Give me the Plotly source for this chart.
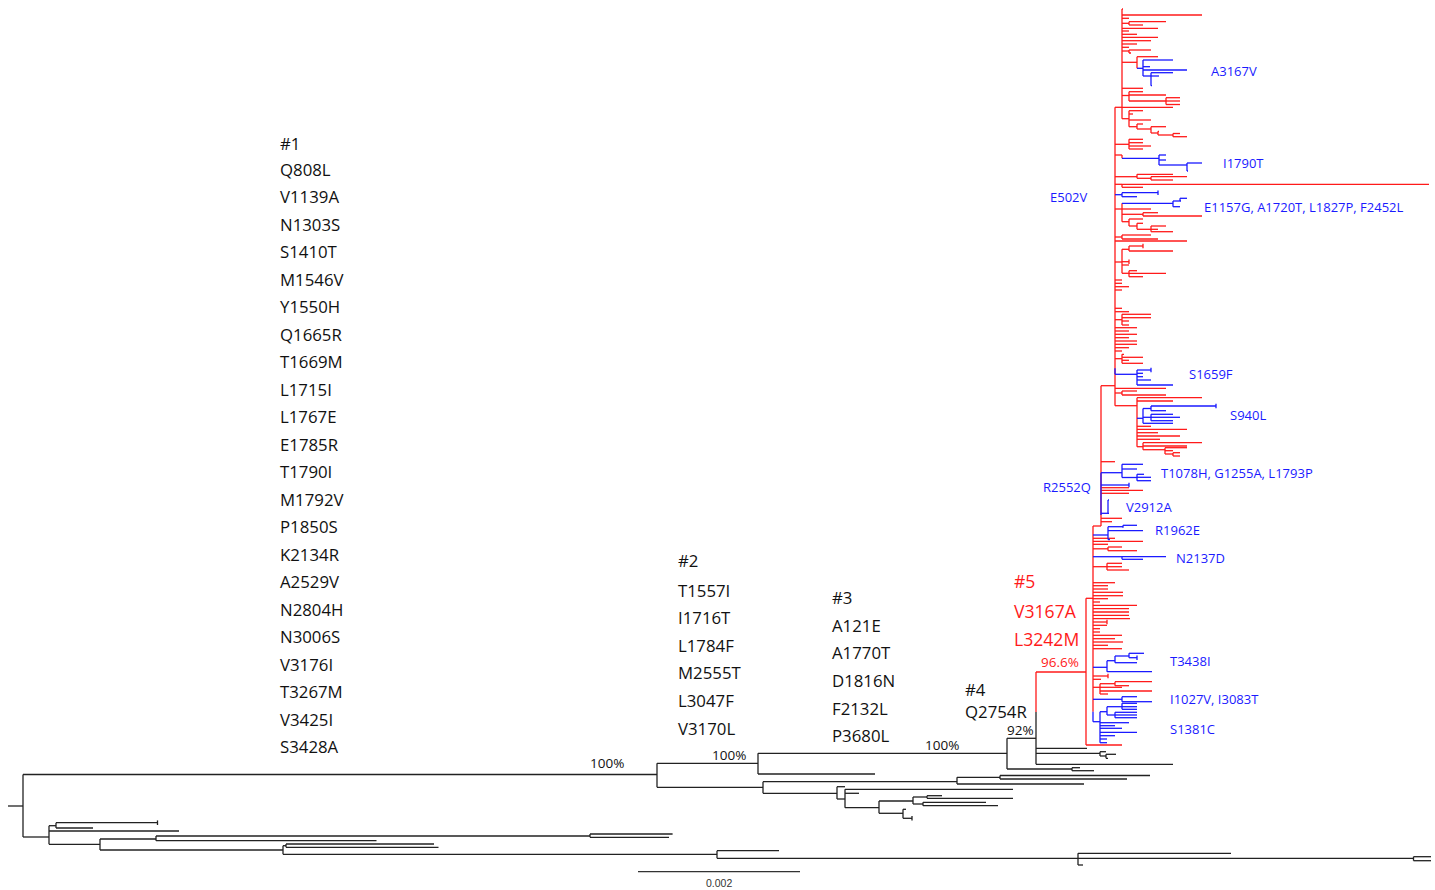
import plotly.graph_objects as go

# ------------------------------------------------------------------
# Tree description helpers: T = tip (row, depth_end), N = internal node
# (row, depth, children). Depth units: 162 units = 0.002 subst./site.
# ------------------------------------------------------------------
def T(y, x, tick=False, c=None):
    return ("t", y, x, tick, c)


def N(y, x, kids, c=None):
    return ("n", y, x, kids, c)


# ---------------- outgroup (bottom) ----------------
outgroup_a = N(825.7, 56, [T(822.7, 157.5, True), T(828, 93)])
outgroup_b = N(839, 156, [N(836, 590, [T(834, 672.6), T(837.3, 669)]), T(840.7, 376.5)])
outgroup_c = N(850, 283, [
    N(845.7, 286, [T(844, 434), T(847.3, 438.5)]),
    N(854.3, 717, [T(850.7, 779),
                   N(858.3, 1078, [T(853.3, 1231),
                                   N(858.3, 1413.5, [T(856.7, 1431), T(860.7, 1431)]),
                                   T(865, 1083)])])])
outgroup = N(837, 49, [outgroup_a, T(831, 179), N(844.3, 100, [outgroup_b, outgroup_c])])

# ---------------- black intermediate clades ----------------
clade_g = N(793.3, 837, [T(786.7, 845), N(799, 845, [
    T(789.3, 1013), T(793.3, 859),
    N(807.7, 879, [
        N(801, 913, [N(797, 927, [T(795.7, 942), T(798.3, 1013)]),
                     N(804, 923, [T(802.3, 986), T(805.7, 998)])]),
        N(813.3, 903, [T(809.3, 906), T(818.3, 912, True)])])])])
clade_f = N(781.7, 957, [N(777.3, 1000, [T(775.5, 1150), T(779, 1127)]), T(784, 1084)])
clade_d = N(787.3, 763, [clade_f, clade_g])

# ---------------- red clade (#5) and blue sub-clades ----------------
A3167V = N(68.3, 1143, [T(60, 1173), T(66.7, 1150), T(70, 1187),
                        N(76, 1151, [T(72.7, 1173), T(76, 1159), T(85.7, 1152)])], "b")
top_fan = N(107.3, 1122, [
    T(9, 1123), T(15, 1202), T(18.3, 1129),
    N(23.3, 1129, [T(21.7, 1166), T(25, 1143)]),
    T(28.3, 1158), T(31, 1129), T(34.3, 1137), T(37.3, 1158), T(40.7, 1151), T(44, 1137), T(47.3, 1129),
    N(51, 1129, [T(50, 1151), T(53, 1131)]),
    N(62.3, 1137, [T(56.7, 1158), A3167V]),
    T(88.3, 1143),
    N(95.5, 1129, [T(91.7, 1143), T(95, 1166),
                   N(101, 1166, [T(97.7, 1180), T(101, 1180), T(104.5, 1180)])]),
    T(107.3, 1173),
    N(118.7, 1129, [T(110.7, 1143), T(114, 1133), T(120, 1151),
                    N(126.7, 1137, [T(124, 1143),
                                    N(129, 1151, [T(126.7, 1166),
                                                  N(133, 1158, [T(131.3, 1159),
                                                                N(135, 1173, [T(133.5, 1180), T(136.7, 1187)])])])])]),
])
I1790T = N(158.3, 1159, [T(155, 1166), T(160, 1166),
                         N(165, 1187, [T(163, 1202), T(171, 1188)])], "b")
E502V_clade = N(194.7, 1122, [T(192.7, 1158, True), T(196.7, 1137)], "b")
E1157G = N(203.3, 1173, [N(201, 1180, [T(198.3, 1187), T(201, 1181)]), T(206.7, 1180)], "b")
S1659F = N(374.3, 1137, [T(370, 1151, True), T(373.3, 1143), T(376.7, 1143), T(380, 1151), T(385, 1173)], "b")
S940L = N(418.3, 1143, [N(408.5, 1151, [T(406, 1216, True), T(410.7, 1166)]),
                        N(417.3, 1151, [T(414.3, 1173), T(417.3, 1180), T(420.7, 1173)]),
                        T(423.3, 1173)], "b")
fan_1137 = N(405.7, 1137, [
    T(397.7, 1202), T(401, 1173), S940L,
    T(426.3, 1151), T(429.3, 1187), T(432.7, 1158), T(436, 1180), T(439.3, 1160),
    N(446.7, 1143, [T(442.7, 1202), T(446, 1187),
                    N(449.7, 1165, [T(447.7, 1187), T(450.7, 1173),
                                    N(454, 1173, [T(452.7, 1180), T(456, 1180)])])])])
fan_1115 = N(385.7, 1115, [
    top_fan,
    N(144.3, 1129, [T(139.3, 1143), T(142.7, 1143), T(146, 1151), T(149, 1143)]),
    N(155, 1122, [I1790T]),
    N(176.7, 1137, [T(174.3, 1173), N(178.3, 1151, [T(176.7, 1187), T(180, 1173)])]),
    N(184.3, 1122, [T(184.3, 1429), T(187.3, 1143)]),
    E502V_clade,
    N(209, 1122, [E1157G, T(209, 1151),
                  N(214.3, 1143, [T(212.7, 1158), T(216, 1202)]),
                  N(221.7, 1129, [T(219, 1143),
                                  N(226, 1137, [T(223.3, 1143),
                                                N(229.3, 1151, [T(226, 1166), T(229.3, 1158), T(231.7, 1173)])])])]),
    N(237, 1122, [T(235, 1151), T(239, 1158)]),
    T(241, 1187),
    N(262, 1122, [N(249.3, 1129, [T(246, 1143, True), T(251, 1173)]), T(261.7, 1129, True), T(265, 1129),
                  N(273.3, 1129, [T(270.7, 1137), T(273.3, 1166), T(276.7, 1143)])]),
    T(280, 1122), T(283.3, 1122), T(286.7, 1129), T(290, 1122),
    T(308.3, 1122), T(311.7, 1129),
    N(319.7, 1122, [T(314.3, 1151), T(317.7, 1151), T(321, 1129), T(325, 1129)]),
    T(327.7, 1137), T(331, 1129), T(334.3, 1137), T(337.7, 1129), T(341, 1137), T(344.3, 1137),
    T(347.7, 1129), T(351, 1122),
    N(358.7, 1122, [T(354.3, 1124), T(357.3, 1143), T(360.3, 1129), T(363.3, 1143)]),
    N(368.3, 1115, [S1659F], "b"),
    T(388.3, 1166),
    N(393, 1122, [T(391, 1137), T(395, 1166)]),
    fan_1137,
])
T1078H = N(472.7, 1122, [T(464.3, 1143), T(469, 1137),
                         N(477.5, 1137, [T(474.3, 1144), T(477.3, 1151), T(480.7, 1151)])], "b")
V2912A = N(513.3, 1108, [T(500, 1109), T(513.3, 1109)], "b")
mid_blue = N(515, 1101, [T1078H, T(485, 1129, True), T(487.7, 1129, c="r"), T(490.3, 1143, c="r"),
                         T(493.3, 1129, c="r"), V2912A], "b")
fan_1101 = N(526, 1101, [fan_1115, T(461.7, 1115), mid_blue, T(518.3, 1122), T(521.7, 1112)])
R1962E = N(535, 1108, [N(526.7, 1123, [T(525.3, 1137), T(527.7, 1123)]), T(530.7, 1143), T(539.5, 1110)], "b")
N2137D = N(556.7, 1122, [T(556.7, 1166), T(559.3, 1143)], "b")
T3438I = N(667.3, 1107, [N(660.7, 1115, [N(656, 1129, [T(653.3, 1144), T(657.7, 1137, True)]), T(662.7, 1137)]),
                         T(671.7, 1152)], "b")
I1027V = N(699.3, 1122, [T(696.7, 1137), T(701.7, 1152)], "b")
S1381C = N(711.7, 1093, [N(721.7, 1100, [
    N(711.7, 1107, [N(706.7, 1122, [T(703.3, 1137), T(706.7, 1137), T(709.3, 1137)]),
                    N(715, 1115, [T(712.3, 1137), T(715, 1137), T(717.7, 1137)])]),
    T(722.7, 1129), T(725.7, 1115), T(728.3, 1122), T(732.3, 1137), T(735.7, 1115), T(739, 1107), T(742.7, 1107)])], "b")
fan_1093 = N(598.3, 1093, [
    fan_1101, R1962E, T(538.3, 1115), T(541.3, 1143), T(544.3, 1108),
    N(548.8, 1108, [T(547, 1122), T(550.7, 1137)]), N2137D,
    N(566.7, 1107, [T(563.3, 1122), T(566.7, 1122), T(570, 1129)]),
    T(582.7, 1115), T(585.7, 1108), T(589, 1108), T(592.3, 1123), T(595.7, 1123), T(598.7, 1108),
    T(602, 1100), T(605.3, 1137), T(608.7, 1129), T(612, 1129), T(615.3, 1129), T(618.7, 1130),
    T(622, 1107, True), T(625.3, 1107), T(628.7, 1100), T(632, 1100), T(635.3, 1122), T(638.7, 1115),
    T(642, 1123), T(645.3, 1108), T(648.7, 1122),
    T3438I, T(676, 1108, True), T(679.3, 1101),
    N(687.3, 1100, [N(683.7, 1115, [T(681.7, 1152), T(685.7, 1129)]), T(687.3, 1122), T(691, 1152), T(694, 1108)]),
    I1027V, S1381C])
red_clade = N(672, 1086, [fan_1093, T(745, 1122)], "r")

# ---------------- backbone ----------------
node_92 = N(738.3, 1036, [N(712, 1036, [red_clade], "r"), T(748.3, 1087),
                          N(753.3, 1100, [T(751.7, 1106), N(756, 1106, [T(754.3, 1116), T(758.3, 1108)])]),
                          T(764.3, 1173)])
clade_4 = N(753.3, 1007, [node_92, N(769, 1072, [T(767.7, 1080), T(770.7, 1094)])])
clade_c = N(763.3, 758, [clade_4, T(774, 875)])
ingroup = N(774.5, 657, [clade_c, clade_d])
root = N(806, 23, [ingroup, outgroup])
root_stub_start = 8

# ---------------- text ----------------
group1_title = "#1"
group1_mutations = ["Q808L", "V1139A", "N1303S", "S1410T", "M1546V", "Y1550H", "Q1665R", "T1669M",
                    "L1715I", "L1767E", "E1785R", "T1790I", "M1792V", "P1850S", "K2134R", "A2529V",
                    "N2804H", "N3006S", "V3176I", "T3267M", "V3425I", "S3428A"]
group2_title = "#2"
group2_mutations = ["T1557I", "I1716T", "L1784F", "M2555T", "L3047F", "V3170L"]
group3_title = "#3"
group3_mutations = ["A121E", "A1770T", "D1816N", "F2132L", "P3680L"]
group4_title = "#4"
group4_mutations = ["Q2754R"]
group5_title = "#5"
group5_mutations = ["V3167A", "L3242M"]

support_labels = ["100%", "100%", "100%", "92%", "96.6%"]
support_pos = [(607, 763), (729, 755), (942, 745), (1020, 730), (1060, 662)]
support_colors = ["k", "k", "k", "k", "r"]

blue_labels = ["A3167V", "I1790T", "E1157G, A1720T, L1827P, F2452L", "S1659F", "S940L",
               "T1078H, G1255A, L1793P", "V2912A", "R1962E", "N2137D", "T3438I",
               "I1027V, I3083T", "S1381C"]
blue_label_pos = [(1210, 71), (1222, 163), (1203, 207), (1188, 374), (1229, 415), (1160, 473),
                  (1125, 507), (1154, 530), (1175, 558), (1169, 661), (1169, 699), (1169, 729)]
blue_left_labels = ["E502V", "R2552Q"]
blue_left_pos = [(1089, 197), (1092, 487)]

scale_value = "0.002"
scale_start, scale_len, scale_row = 638, 162, 871.7

COLORS = {"k": "#222222", "r": "#ff1a1a", "b": "#1a1aff"}

# ---------------- build segments ----------------
H = {"k": [], "r": [], "b": []}
V = {"k": [], "r": [], "b": []}


def walk(node, px, col):
    kind = node[0]
    y, x = node[1], node[2]
    c = node[4] or col
    H[c].append((px, x, y))
    if kind == "t":
        if node[3]:
            V[c].append((x, y - 2.3, y + 2.3))
        return
    kids = node[3]
    ys = [k[1] for k in kids] + [y]
    V[c].append((x, min(ys), max(ys)))
    for k in kids:
        walk(k, x, c)


walk(root, root_stub_start, "k")

fig = go.Figure()
for c in ["k", "r", "b"]:
    xs, ys = [], []
    for x0, x1, y in H[c]:
        if x1 - x0 > 0.01:
            xs += [x0, x1, None]
            ys += [y, y, None]
    for x, y0, y1 in V[c]:
        if y1 - y0 > 0.01:
            xs += [x, x, None]
            ys += [y0, y1, None]
    fig.add_trace(go.Scatter(x=xs, y=ys, mode="lines", line=dict(color=COLORS[c], width=1.3),
                             hoverinfo="skip", showlegend=False))

# scale bar
fig.add_trace(go.Scatter(x=[scale_start, scale_start + scale_len], y=[scale_row, scale_row], mode="lines",
                         line=dict(color="#333333", width=1.2), hoverinfo="skip", showlegend=False))

ann = []
FONT = "Open Sans, Noto Sans, sans-serif"
INK = "#111111"


def add_text(t, x, y, size, color, anchor="left"):
    ann.append(dict(x=x, y=y, text=t, showarrow=False, xanchor=anchor, yanchor="middle", borderpad=0,
                    font=dict(family=FONT, size=size, color=color)))


def add_block(title, items, x, y_title, y_first, step, size, color):
    add_text(title, x, y_title, size, color)
    for i, t in enumerate(items):
        add_text(t, x, y_first + i * step, size, color)


add_block(group1_title, group1_mutations, 279, 143, 169, 27.5, 16.8, INK)
add_block(group2_title, group2_mutations, 677, 560, 590, 27.6, 16.8, INK)
add_block(group3_title, group3_mutations, 831, 597, 625, 27.7, 16.8, INK)
add_block(group4_title, group4_mutations, 964, 689, 711, 27.5, 16.8, INK)
add_block(group5_title, group5_mutations, 1013, 581, 611, 27.5, 17.6, COLORS["r"])

for t, (x, y), c in zip(support_labels, support_pos, support_colors):
    add_text(t, x, y, 13.5, INK if c == "k" else COLORS["r"], anchor="center")
for t, (x, y) in zip(blue_labels, blue_label_pos):
    add_text(t, x, y, 13, COLORS["b"])
for t, (x, y) in zip(blue_left_labels, blue_left_pos):
    add_text(t, x, y, 13, COLORS["b"], anchor="right")
ann.append(dict(x=scale_start + scale_len / 2, y=883, text=scale_value, showarrow=False, xanchor="center",
                yanchor="middle", font=dict(family="Liberation Sans, Arial, sans-serif", size=10.5,
                                            color="#333333")))

fig.update_layout(
    width=1435, height=890, margin=dict(l=0, r=0, t=0, b=0),
    paper_bgcolor="white", plot_bgcolor="white",
    xaxis=dict(range=[0, 1435], visible=False, fixedrange=True),
    yaxis=dict(range=[890, 0], visible=False, fixedrange=True),
    annotations=ann, showlegend=False,
)
fig.write_html("out.html", config={"displayModeBar": False},
               post_script="document.body.style.margin='0';document.body.style.overflow='hidden';")
